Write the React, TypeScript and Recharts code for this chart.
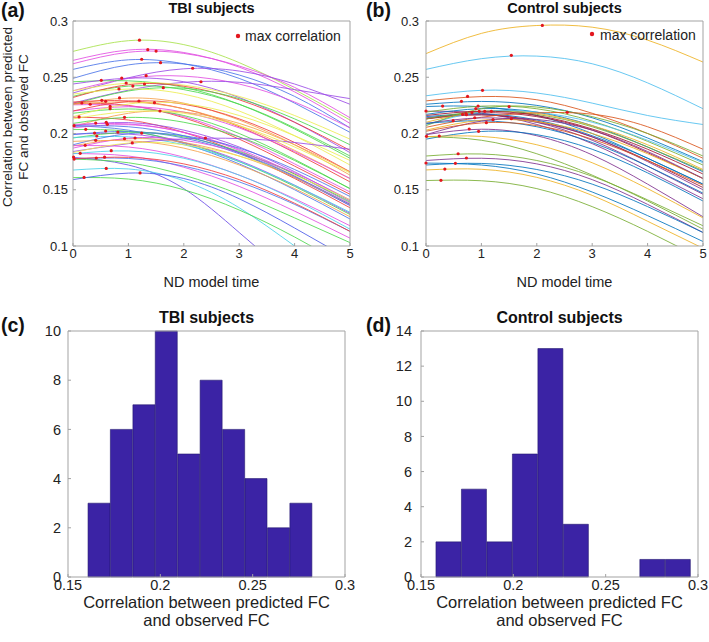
import React from 'react'
import { ComposedChart, Line, Scatter, Bar, XAxis, YAxis } from 'recharts'

const FONT = '"Liberation Sans", Arial, Helvetica, sans-serif'
const TEXT = '#222222'
const AXIS = '#a3a3a3'
const RED = '#e3161e'
const BAR = '#3b23a5'
const BAR_EDGE = '#24176e'

// ND model time samples
const times = [0, 1, 2, 3, 4, 5]
const timeTicks = [0, 1, 2, 3, 4, 5]
const corrTicks = [0.1, 0.15, 0.2, 0.25, 0.3]

// TBI subjects: correlation read at t = 0..5, one row per subject
const tbiCurves: number[][] = [
  [0.273, 0.2825, 0.279, 0.263, 0.239, 0.212],
  [0.265, 0.2742, 0.272, 0.259, 0.237, 0.209],
  [0.262, 0.2722, 0.2712, 0.26, 0.241, 0.214],
  [0.257, 0.2655, 0.262, 0.249, 0.227, 0.201],
  [0.249, 0.261, 0.2618, 0.252, 0.233, 0.205],
  [0.236, 0.2495, 0.2575, 0.2555, 0.244, 0.226],
  [0.238, 0.249, 0.251, 0.244, 0.228, 0.205],
  [0.227, 0.2385, 0.2455, 0.2455, 0.239, 0.231],
  [0.246, 0.2468, 0.241, 0.226, 0.204, 0.178],
  [0.244, 0.2492, 0.246, 0.232, 0.21, 0.183],
  [0.238, 0.2448, 0.243, 0.233, 0.216, 0.195],
  [0.233, 0.2421, 0.239, 0.226, 0.205, 0.18],
  [0.232, 0.2434, 0.242, 0.23, 0.21, 0.185],
  [0.226, 0.2378, 0.2402, 0.231, 0.213, 0.19],
  [0.235, 0.2395, 0.235, 0.22, 0.198, 0.172],
  [0.226, 0.2315, 0.227, 0.212, 0.19, 0.163],
  [0.227, 0.225, 0.214, 0.195, 0.171, 0.146],
  [0.2255, 0.2245, 0.215, 0.197, 0.173, 0.148],
  [0.228, 0.229, 0.222, 0.206, 0.183, 0.157],
  [0.226, 0.228, 0.222, 0.207, 0.185, 0.16],
  [0.22, 0.2238, 0.219, 0.205, 0.184, 0.16],
  [0.218, 0.2218, 0.216, 0.2, 0.177, 0.151],
  [0.22, 0.2285, 0.226, 0.213, 0.192, 0.166],
  [0.215, 0.2262, 0.2265, 0.216, 0.198, 0.176],
  [0.206, 0.218, 0.219, 0.209, 0.19, 0.166],
  [0.2145, 0.212, 0.201, 0.183, 0.16, 0.134],
  [0.209, 0.2143, 0.21, 0.197, 0.176, 0.151],
  [0.207, 0.203, 0.191, 0.173, 0.15, 0.124],
  [0.207, 0.2097, 0.203, 0.188, 0.166, 0.14],
  [0.205, 0.2078, 0.201, 0.186, 0.164, 0.138],
  [0.208, 0.2085, 0.201, 0.185, 0.162, 0.136],
  [0.2035, 0.202, 0.192, 0.175, 0.153, 0.128],
  [0.1995, 0.1995, 0.192, 0.176, 0.154, 0.129],
  [0.199, 0.2018, 0.196, 0.182, 0.161, 0.136],
  [0.196, 0.2011, 0.197, 0.184, 0.164, 0.139],
  [0.1965, 0.197, 0.19, 0.175, 0.154, 0.13],
  [0.189, 0.1953, 0.192, 0.18, 0.161, 0.137],
  [0.187, 0.1958, 0.194, 0.183, 0.165, 0.141],
  [0.19, 0.1998, 0.198, 0.187, 0.168, 0.144],
  [0.184, 0.191, 0.1952, 0.1955, 0.192, 0.186],
  [0.193, 0.1935, 0.187, 0.172, 0.151, 0.126],
  [0.1892, 0.188, 0.179, 0.163, 0.142, 0.118],
  [0.183, 0.1915, 0.19, 0.18, 0.163, 0.141],
  [0.1822, 0.18, 0.17, 0.153, 0.131, 0.107],
  [0.1788, 0.172, 0.151, 0.112, 0.07, 0.03],
  [0.1772, 0.174, 0.163, 0.146, 0.125, 0.103],
  [0.1775, 0.1778, 0.171, 0.157, 0.137, 0.113],
  [0.1775, 0.1788, 0.173, 0.159, 0.138, 0.113],
  [0.1675, 0.1685, 0.158, 0.134, 0.1, 0.065],
  [0.1608, 0.1595, 0.15, 0.132, 0.108, 0.08],
  [0.159, 0.1648, 0.16, 0.142, 0.116, 0.088],
  [0.182, 0.1845, 0.178, 0.163, 0.141, 0.115],
  [0.2065, 0.206, 0.198, 0.183, 0.162, 0.137],
  [0.213, 0.2195, 0.218, 0.207, 0.188, 0.165],
]

const tbiColors = [
  '#a8e24a', '#e24ee2', '#e24ee2', '#4a74e8', '#4a74e8', '#9b4ae6', '#e24ee2', '#9b4ae6',
  '#4cd84c', '#9b4ae6', '#ecec52', '#4cd84c', '#f03c3c', '#4cd84c', '#ecec52', '#f5a04a',
  '#f03c3c', '#e24ee2', '#f03c3c', '#f5a04a', '#e24ee2', '#4cd84c', '#f03c3c', '#ecec52',
  '#f5a04a', '#f03c3c', '#4cd84c', '#4a74e8', '#9b4ae6', '#e24ee2', '#e24ee2', '#4cd84c',
  '#9b4ae6', '#4a74e8', '#4cd84c', '#48d2ea', '#f5a04a', '#e24ee2', '#4a74e8', '#9b4ae6',
  '#f5a04a', '#e24ee2', '#ecec52', '#e24ee2', '#6a4ae6', '#4cd84c', '#4a74e8', '#f03c3c',
  '#48d2ea', '#4cd84c', '#4a5ae8', '#48d2ea', '#4a74e8', '#ecec52',
]

// [time, value] of each TBI subject's max correlation
const tbiPeaks: number[][] = [
  [1.2, 0.283], [1.35, 0.2745], [1.5, 0.2733], [1.24, 0.266], [1.58, 0.263], [2.16, 0.258],
  [1.32, 0.2514], [2.31, 0.246], [0.51, 0.2473], [0.88, 0.2493], [0.96, 0.2449], [1.08, 0.2422],
  [1.29, 0.244], [1.63, 0.2407], [0.83, 0.2396], [0.84, 0.2316], [0.16, 0.2271], [0.31, 0.226],
  [0.52, 0.2295], [0.59, 0.2286], [0.67, 0.2241], [0.67, 0.222], [1.19, 0.2289], [1.47, 0.2274],
  [1.57, 0.22], [0.11, 0.2147], [0.93, 0.2144], [0.02, 0.207], [0.6, 0.21], [0.62, 0.2082],
  [0.41, 0.2093], [0.23, 0.2037], [0.39, 0.2004], [0.59, 0.2022], [0.81, 0.2013], [0.43, 0.1978],
  [0.93, 0.1954], [1.12, 0.196], [1.24, 0.2004], [2.39, 0.196], [0.41, 0.1939], [0.22, 0.1895],
  [1.07, 0.1916], [0.13, 0.1824], [0.01, 0.1791], [0.02, 0.1773], [0.42, 0.1782], [0.57, 0.179],
  [0.6, 0.169], [0.2, 0.161], [1.21, 0.165], [0.69, 0.1847],
]

// Control subjects: correlation read at t = 0..5
const ctrlCurves: number[][] = [
  [0.271, 0.289, 0.296, 0.2945, 0.283, 0.2635],
  [0.257, 0.2665, 0.2688, 0.262, 0.245, 0.222],
  [0.2335, 0.2384, 0.236, 0.227, 0.216, 0.208],
  [0.229, 0.2328, 0.23, 0.218, 0.2, 0.178],
  [0.226, 0.2285, 0.225, 0.214, 0.196, 0.175],
  [0.224, 0.2238, 0.216, 0.2, 0.178, 0.155],
  [0.2198, 0.218, 0.208, 0.191, 0.167, 0.142],
  [0.219, 0.2243, 0.222, 0.211, 0.193, 0.172],
  [0.217, 0.2221, 0.219, 0.207, 0.188, 0.166],
  [0.213, 0.2184, 0.215, 0.203, 0.183, 0.16],
  [0.214, 0.2168, 0.21, 0.194, 0.171, 0.146],
  [0.215, 0.2174, 0.212, 0.198, 0.178, 0.155],
  [0.213, 0.2165, 0.211, 0.197, 0.176, 0.152],
  [0.213, 0.2196, 0.217, 0.206, 0.188, 0.167],
  [0.21, 0.2196, 0.218, 0.207, 0.19, 0.168],
  [0.208, 0.2192, 0.219, 0.21, 0.194, 0.174],
  [0.207, 0.222, 0.2235, 0.215, 0.2, 0.18],
  [0.2055, 0.2145, 0.2183, 0.2172, 0.206, 0.186],
  [0.209, 0.2139, 0.21, 0.197, 0.175, 0.15],
  [0.209, 0.2113, 0.206, 0.192, 0.171, 0.147],
  [0.203, 0.2118, 0.2105, 0.2, 0.182, 0.16],
  [0.199, 0.211, 0.2125, 0.203, 0.184, 0.16],
  [0.202, 0.2094, 0.207, 0.195, 0.176, 0.154],
  [0.199, 0.2038, 0.198, 0.181, 0.155, 0.126],
  [0.195, 0.2018, 0.199, 0.186, 0.165, 0.14],
  [0.1972, 0.194, 0.182, 0.163, 0.14, 0.115],
  [0.1972, 0.1974, 0.19, 0.174, 0.151, 0.125],
  [0.18, 0.1818, 0.176, 0.162, 0.141, 0.118],
  [0.176, 0.178, 0.173, 0.159, 0.137, 0.112],
  [0.1737, 0.172, 0.164, 0.148, 0.127, 0.104],
  [0.172, 0.1734, 0.168, 0.155, 0.135, 0.112],
  [0.1676, 0.1682, 0.161, 0.145, 0.122, 0.098],
  [0.1582, 0.158, 0.151, 0.135, 0.113, 0.088],
  [0.216, 0.2198, 0.216, 0.204, 0.186, 0.164],
]

const ctrlColors = [
  '#EDB120', '#4DBEEE', '#4DBEEE', '#D95319', '#0072BD', '#0072BD', '#7E2F8E', '#77AC30',
  '#0072BD', '#A2142F', '#7E2F8E', '#0072BD', '#A2142F', '#77AC30', '#EDB120', '#4DBEEE',
  '#77AC30', '#D95319', '#7E2F8E', '#0072BD', '#EDB120', '#7E2F8E', '#D95319', '#7E2F8E',
  '#0072BD', '#77AC30', '#EDB120', '#77AC30', '#7E2F8E', '#0072BD', '#0072BD', '#EDB120',
  '#77AC30', '#A2142F',
]

const ctrlPeaks: number[][] = [
  [2.1, 0.2961], [1.54, 0.2695], [1.02, 0.2384], [0.75, 0.233], [0.64, 0.2286], [0.3, 0.2244],
  [0.0, 0.22], [0.94, 0.2244], [0.9, 0.2222], [0.83, 0.2185], [0.66, 0.217], [0.72, 0.2176],
  [0.73, 0.2167], [0.96, 0.2197], [1.06, 0.2197], [1.18, 0.2197], [1.5, 0.2239], [2.55, 0.2188],
  [0.88, 0.214], [0.49, 0.2114], [1.21, 0.2123], [1.54, 0.2132], [1.09, 0.2096], [0.78, 0.204],
  [0.95, 0.2019], [0.01, 0.1975], [0.24, 0.1978], [0.58, 0.182], [0.73, 0.1782], [0.0, 0.1738],
  [0.53, 0.1735], [0.34, 0.1684], [0.27, 0.1584],
]

// histograms of max correlation
const histXTicks = [0.15, 0.2, 0.25, 0.3]
const tbiBinCenters = [0.1669, 0.179, 0.1912, 0.2033, 0.2155, 0.2276, 0.2398, 0.2519, 0.2641, 0.2762]
const tbiCounts = [3, 6, 7, 10, 5, 8, 6, 4, 2, 3]
const tbiCountTicks = [0, 2, 4, 6, 8, 10]
const ctrlBinCenters = [0.165, 0.1788, 0.1926, 0.2064, 0.2202, 0.234, 0.2478, 0.2616, 0.2754, 0.2892]
const ctrlCounts = [2, 5, 2, 7, 13, 3, 0, 0, 1, 1]
const ctrlCountTicks = [0, 2, 4, 6, 8, 10, 12, 14]

const tbiYLabel = () => (
  <g fill={TEXT} fontSize={13.5} textAnchor="middle">
    <text transform="translate(11.5,117) rotate(-90)">Correlation between predicted</text>
    <text transform="translate(28,117) rotate(-90)">FC and observed FC</text>
  </g>
)

const histXLabel = (props: any) => {
  const vb = props.viewBox
  const cx = vb.x + vb.width / 2
  return (
    <g fill={TEXT} fontSize={16.5} textAnchor="middle">
      <text x={cx} y={vb.y + 31}>Correlation between predicted FC</text>
      <text x={cx} y={vb.y + 49}>and observed FC</text>
    </g>
  )
}

interface CurveProps {
  curves: number[][]
  colors: string[]
  peaks: number[][]
  width: number
  axisWidth: number
  right: number
  tickMarginY: number
  yLabel?: boolean
}

const CurvePanel = ({ curves, colors, peaks, width, axisWidth, right, tickMarginY, yLabel }: CurveProps) => {
  const rows = times.map((t, i) => {
    const r: Record<string, number> = { t }
    curves.forEach((c, k) => {
      r['s' + k] = c[i]
    })
    return r
  })
  const dots = peaks.map(([t, v]) => ({ t, v }))
  const tick = { fontSize: 13, fill: TEXT }

  return (
    <ComposedChart width={width} height={300} data={rows} margin={{ top: 20, right: right - 1, bottom: 0, left: 0 }}>
      <XAxis
        dataKey="t"
        type="number"
        domain={[0, 5]}
        ticks={timeTicks}
        height={54}
        stroke={AXIS}
        tickSize={-3}
        tickMargin={6}
        tick={tick}
        label={{ value: 'ND model time', position: 'insideBottom', offset: 13, fontSize: 14.5, fill: TEXT }}
      />
      <XAxis xAxisId="top" orientation="top" type="number" domain={[0, 5]} ticks={timeTicks} height={1} stroke={AXIS} tickSize={-3} tick={false} />
      <YAxis
        type="number"
        domain={[0.1, 0.3]}
        ticks={corrTicks}
        allowDataOverflow
        width={axisWidth}
        stroke={AXIS}
        tickSize={-3}
        tickMargin={tickMarginY}
        tick={tick}
        label={yLabel ? tbiYLabel : undefined}
      />
      <YAxis yAxisId="right" orientation="right" type="number" domain={[0.1, 0.3]} ticks={corrTicks} width={1} stroke={AXIS} tickSize={-3} tick={false} />
      {curves.map((_, k) => (
        <Line
          key={k}
          dataKey={'s' + k}
          type="natural"
          stroke={colors[k]}
          strokeWidth={0.85}
          dot={false}
          activeDot={false}
          isAnimationActive={false}
        />
      ))}
      <Scatter
        data={dots}
        dataKey="v"
        isAnimationActive={false}
        shape={(p: any) => <circle cx={p.cx} cy={p.cy} r={1.6} fill={RED} />}
      />
    </ComposedChart>
  )
}

interface HistProps {
  centers: number[]
  counts: number[]
  yTicks: number[]
  width: number
  axisWidth: number
  right: number
  tickMarginY: number
}

const HistPanel = ({ centers, counts, yTicks, width, axisWidth, right, tickMarginY }: HistProps) => {
  const rows = centers.map((x, i) => ({ x, n: counts[i] }))
  const yMax = yTicks[yTicks.length - 1]
  const tick = { fontSize: 14.5, fill: TEXT }

  return (
    <ComposedChart
      width={width}
      height={322}
      data={rows}
      barCategoryGap={0}
      barGap={0}
      margin={{ top: 10, right: right - 1, bottom: 0, left: 0 }}
    >
      <XAxis
        dataKey="x"
        type="number"
        domain={[0.15, 0.3]}
        ticks={histXTicks}
        height={65}
        stroke={AXIS}
        tickSize={-3}
        tickMargin={6}
        tick={tick}
        label={histXLabel}
      />
      <XAxis xAxisId="top" orientation="top" type="number" domain={[0.15, 0.3]} ticks={histXTicks} height={1} stroke={AXIS} tickSize={-3} tick={false} />
      <YAxis
        type="number"
        domain={[0, yMax]}
        ticks={yTicks}
        width={axisWidth}
        stroke={AXIS}
        tickSize={-3}
        tickMargin={tickMarginY}
        tick={tick}
      />
      <YAxis yAxisId="right" orientation="right" type="number" domain={[0, yMax]} ticks={yTicks} width={1} stroke={AXIS} tickSize={-3} tick={false} />
      <Bar dataKey="n" fill={BAR} stroke={BAR_EDGE} strokeWidth={0.6} isAnimationActive={false} />
    </ComposedChart>
  )
}

const App = () => (
  <div style={{ position: 'absolute', left: 0, top: 0, width: 709, height: 642, background: '#fff', fontFamily: FONT, overflow: 'hidden' }}>
    <div style={{ position: 'absolute', left: 0, top: 0 }}>
      <CurvePanel curves={tbiCurves} colors={tbiColors} peaks={tbiPeaks} width={360} axisWidth={73} right={10} tickMarginY={8} yLabel />
    </div>
    <div style={{ position: 'absolute', left: 355, top: 0 }}>
      <CurvePanel curves={ctrlCurves} colors={ctrlColors} peaks={ctrlPeaks} width={354} axisWidth={71} right={6} tickMarginY={10} />
    </div>
    <div style={{ position: 'absolute', left: 0, top: 320 }}>
      <HistPanel centers={tbiBinCenters} counts={tbiCounts} yTicks={tbiCountTicks} width={355} axisWidth={68} right={10} tickMarginY={10} />
    </div>
    <div style={{ position: 'absolute', left: 355, top: 320 }}>
      <HistPanel centers={ctrlBinCenters} counts={ctrlCounts} yTicks={ctrlCountTicks} width={354} axisWidth={66} right={11} tickMarginY={12} />
    </div>
    <svg width={709} height={642} style={{ position: 'absolute', left: 0, top: 0, pointerEvents: 'none' }}>
      <g fontWeight="bold" fill="#111">
        <text x={1} y={17} fontSize={19.5}>(a)</text>
        <text x={366} y={17} fontSize={19.5}>(b)</text>
        <text x={1} y={332} fontSize={19.5}>(c)</text>
        <text x={366} y={332} fontSize={19.5}>(d)</text>
        <text x={211.5} y={13} fontSize={14.5} textAnchor="middle">TBI subjects</text>
        <text x={564.5} y={13} fontSize={14.5} textAnchor="middle">Control subjects</text>
        <text x={206.5} y={323} fontSize={16} textAnchor="middle">TBI subjects</text>
        <text x={559.5} y={323} fontSize={16} textAnchor="middle">Control subjects</text>
      </g>
      <circle cx={238} cy={36} r={2.2} fill={RED} />
      <text x={245} y={41} fontSize={14} fill={TEXT}>max correlation</text>
      <circle cx={592} cy={34} r={2.2} fill={RED} />
      <text x={600} y={40} fontSize={14} fill={TEXT}>max correlation</text>
    </svg>
  </div>
)

export default App
